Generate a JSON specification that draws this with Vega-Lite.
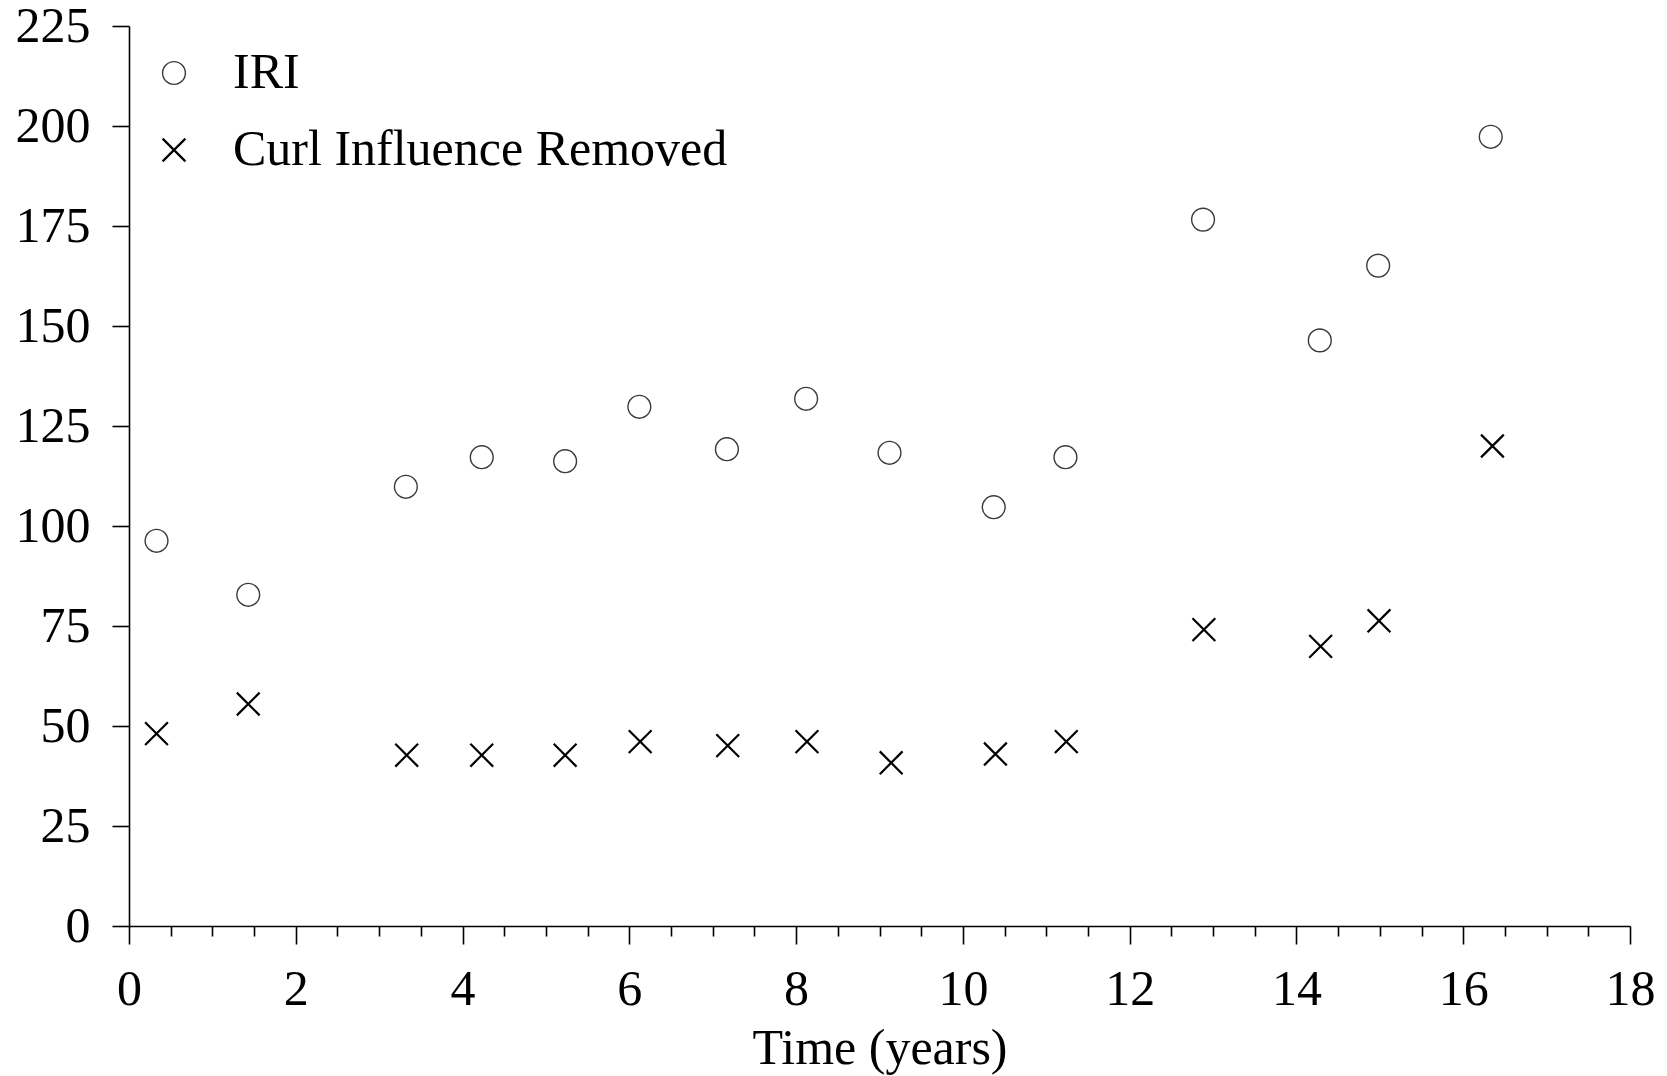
{
  "$schema": "https://vega.github.io/schema/vega-lite/v6.json",
  "autosize": "none",
  "width": 1501,
  "height": 900,
  "padding": {"left": 129, "top": 26, "right": 37, "bottom": 150},
  "background": "white",
  "config": {
    "view": {"stroke": null},
    "font": "Liberation Serif",
    "axis": {"grid": false, "domainColor": "black", "tickColor": "black", "labelColor": "black", "titleColor": "black", "labelFont": "Liberation Serif", "titleFont": "Liberation Serif", "labelFontSize": 50, "titleFontSize": 50, "titleFontWeight": "normal", "domainWidth": 1.6, "tickWidth": 1.6},
    "legend": {"labelFont": "Liberation Serif", "labelFontSize": 50, "labelColor": "black", "labelLimit": 0}
  },
  "data": {
    "values": [
      {"t": 0.33, "v": 96.3, "s": "IRI"},
      {"t": 1.43, "v": 82.8, "s": "IRI"},
      {"t": 3.32, "v": 109.8, "s": "IRI"},
      {"t": 4.23, "v": 117.2, "s": "IRI"},
      {"t": 5.23, "v": 116.2, "s": "IRI"},
      {"t": 6.12, "v": 129.8, "s": "IRI"},
      {"t": 7.17, "v": 119.2, "s": "IRI"},
      {"t": 8.12, "v": 131.8, "s": "IRI"},
      {"t": 9.12, "v": 118.3, "s": "IRI"},
      {"t": 10.37, "v": 104.7, "s": "IRI"},
      {"t": 11.23, "v": 117.2, "s": "IRI"},
      {"t": 12.88, "v": 176.6, "s": "IRI"},
      {"t": 14.28, "v": 146.4, "s": "IRI"},
      {"t": 14.98, "v": 165.1, "s": "IRI"},
      {"t": 16.33, "v": 197.3, "s": "IRI"},
      {"t": 0.33, "v": 48.1, "s": "Curl Influence Removed"},
      {"t": 1.43, "v": 55.5, "s": "Curl Influence Removed"},
      {"t": 3.33, "v": 42.7, "s": "Curl Influence Removed"},
      {"t": 4.23, "v": 42.7, "s": "Curl Influence Removed"},
      {"t": 5.23, "v": 42.7, "s": "Curl Influence Removed"},
      {"t": 6.13, "v": 46.1, "s": "Curl Influence Removed"},
      {"t": 7.18, "v": 45.1, "s": "Curl Influence Removed"},
      {"t": 8.13, "v": 46.1, "s": "Curl Influence Removed"},
      {"t": 9.14, "v": 40.8, "s": "Curl Influence Removed"},
      {"t": 10.39, "v": 43.0, "s": "Curl Influence Removed"},
      {"t": 11.24, "v": 46.1, "s": "Curl Influence Removed"},
      {"t": 12.89, "v": 74.1, "s": "Curl Influence Removed"},
      {"t": 14.29, "v": 69.9, "s": "Curl Influence Removed"},
      {"t": 14.99, "v": 76.3, "s": "Curl Influence Removed"},
      {"t": 16.35, "v": 120.0, "s": "Curl Influence Removed"}
    ]
  },
  "mark": {"type": "point", "filled": false, "size": 520, "opacity": 1},
  "encoding": {
    "x": {
      "field": "t", "type": "quantitative",
      "scale": {"domain": [0, 18], "nice": false, "zero": false},
      "axis": {
        "title": "Time (years)",
        "values": [0, 0.5, 1, 1.5, 2, 2.5, 3, 3.5, 4, 4.5, 5, 5.5, 6, 6.5, 7, 7.5, 8, 8.5, 9, 9.5, 10, 10.5, 11, 11.5, 12, 12.5, 13, 13.5, 14, 14.5, 15, 15.5, 16, 16.5, 17, 17.5, 18],
        "format": "~g",
        "labelExpr": "datum.value % 2 === 0 ? datum.label : ''",
        "labelOverlap": false,
        "labelFlush": false,
        "tickSize": {"condition": {"test": "datum.value % 2 === 0", "value": 18}, "value": 10},
        "labelPadding": 20,
        "titlePadding": 9
      }
    },
    "y": {
      "field": "v", "type": "quantitative",
      "scale": {"domain": [0, 225], "nice": false},
      "axis": {
        "title": null,
        "values": [0, 25, 50, 75, 100, 125, 150, 175, 200, 225],
        "tickSize": 17,
        "labelPadding": 22,
        "labelFlush": false,
        "labelOverlap": false
      }
    },
    "shape": {
      "field": "s", "type": "nominal",
      "scale": {"domain": ["IRI", "Curl Influence Removed"], "range": ["circle", "M-1,-1L1,1M-1,1L1,-1"]},
      "legend": {"title": null, "orient": "none", "legendX": 20, "legendY": 22, "symbolSize": 520, "labelOffset": 34, "rowPadding": 27, "padding": 0, "symbolFillColor": "transparent"}
    },
    "color": {
      "field": "s", "type": "nominal",
      "scale": {"domain": ["IRI", "Curl Influence Removed"], "range": ["#3a3a3a", "#000000"]},
      "legend": {"title": null, "orient": "none", "legendX": 20, "legendY": 22, "symbolSize": 520, "labelOffset": 34, "rowPadding": 27, "padding": 0}
    },
    "strokeWidth": {
      "field": "s", "type": "nominal",
      "scale": {"domain": ["IRI", "Curl Influence Removed"], "range": [1.4, 2.2]},
      "legend": {"title": null, "orient": "none", "legendX": 20, "legendY": 22, "symbolSize": 520, "labelOffset": 34, "rowPadding": 27, "padding": 0}
    }
  }
}
